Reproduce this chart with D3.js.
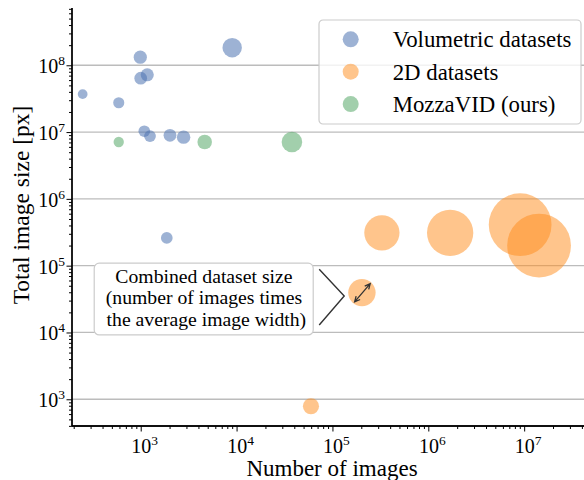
<!DOCTYPE html>
<html>
<head>
<meta charset="utf-8">
<script src="https://cdn.jsdelivr.net/npm/d3@7"></script>
<style>
  body { margin: 0; background: #fff; }
  svg { display: block; font-family: "Liberation Serif", "Times New Roman", serif; }
</style>
</head>
<body>
<div class="chart"></div>
<script>
var svgWidth = 584;
var svgHeight = 480;

// Volumetric datasets: number of images, total image size [px], avg image width
var volImages = [248, 590, 990, 1000, 1170, 1090, 1250, 2020, 2800, 9000, 1870];
var volTotal = [3.7e7, 2.75e7, 1.32e8, 6.4e7, 7.2e7, 1.03e7, 8.7e6, 8.95e6, 8.4e6, 1.83e8, 2.6e5];
var volWidth = [333, 302, 509, 400, 416, 218, 206, 208, 203, 568, 130];

// 2D datasets
var flatImages = [3.28e5, 1.69e6, 9.08e6, 1.43e7, 2.03e5, 5.97e4];
var flatTotal = [3.1e5, 3.1e5, 4.1e5, 2.0e5, 3.95e4, 785];
var flatWidth = [557, 557, 640, 447, 199, 28];

// MozzaVID (ours)
var mozzaImages = [590, 4650, 37800];
var mozzaTotal = [7.1e6, 7.1e6, 7.1e6];
var mozzaWidth = [192, 192, 192];

var seriesNames = ["Volumetric datasets", "2D datasets", "MozzaVID (ours)"];
var seriesColors = ["#4c72b0", "#ff8c1a", "#55a868"];
var yTicks = [1e3, 1e4, 1e5, 1e6, 1e7, 1e8];
var xTicks = [1e3, 1e4, 1e5, 1e6, 1e7];
var noteLines = ["Combined dataset size", "(number of images times", " the average image width)"];

var margin = {top: 8, right: -8, bottom: 54, left: 72};
var width = svgWidth - margin.left - margin.right;
var height = svgHeight - margin.top - margin.bottom;

function makeSeries(n, t, w) {
  return n.map(function(v, i) { return {n: v, total: t[i], combined: v * w[i]}; });
}
var series = [
  makeSeries(volImages, volTotal, volWidth),
  makeSeries(flatImages, flatTotal, flatWidth),
  makeSeries(mozzaImages, mozzaTotal, mozzaWidth)
];

var svg = d3.select(".chart")
  .append("svg")
  .attr("width", svgWidth)
  .attr("height", svgHeight);

var chartGroup = svg.append("g")
  .attr("transform", `translate(${margin.left}, ${margin.top})`);

var x = d3.scaleLog().domain([192, 5.1e7]).range([0, width]);
var y = d3.scaleLog().domain([398, 7.2e8]).range([height, 0]);
var r = d3.scalePow().exponent(1 / 6).domain([0, 1e6]).range([0, 7.4]);

// grid
chartGroup.append("g").selectAll("line")
  .data(yTicks)
  .enter()
  .append("line")
  .attr("x1", 0)
  .attr("x2", width)
  .attr("y1", d => y(d))
  .attr("y2", d => y(d))
  .attr("stroke", "#bcbcbc")
  .attr("stroke-width", 1.3);

// minor ticks
function minors(scale) {
  var dom = scale.domain(), out = [];
  for (var e = Math.floor(Math.log10(dom[0])); e <= Math.ceil(Math.log10(dom[1])); e++) {
    for (var m = 2; m < 10; m++) {
      var v = m * Math.pow(10, e);
      if (v >= dom[0] && v <= dom[1]) out.push(v);
    }
  }
  return out;
}

var xAxisG = chartGroup.append("g").attr("transform", `translate(0, ${height})`);
xAxisG.call(d3.axisBottom(x).tickValues(minors(x)).tickSize(3).tickFormat(""));
xAxisG.call(g => g.append("g").call(d3.axisBottom(x).tickValues(xTicks).tickSize(5.5).tickFormat("")));
var yAxisG = chartGroup.append("g");
yAxisG.call(d3.axisLeft(y).tickValues(minors(y)).tickSize(3).tickFormat(""));
yAxisG.call(g => g.append("g").call(d3.axisLeft(y).tickValues(yTicks).tickSize(5.5).tickFormat("")));
chartGroup.selectAll(".domain").attr("stroke", "#000").attr("stroke-width", 1.3);
chartGroup.selectAll(".tick line").attr("stroke", "#000").attr("stroke-width", 1);
xAxisG.selectAll(".domain").attr("d", `M0,0H${width}`);
yAxisG.selectAll(".domain").attr("d", `M0,0V${height}`);

function powLabel(sel, v) {
  sel.append("tspan").text("10");
  sel.append("tspan").attr("dy", -8).attr("font-size", 13.5).text(Math.round(Math.log10(v)));
}

chartGroup.append("g").selectAll("text")
  .data(yTicks)
  .enter()
  .append("text")
  .attr("x", -7)
  .attr("y", d => y(d) + 8)
  .attr("text-anchor", "end")
  .attr("font-size", 20)
  .each(function(d) { powLabel(d3.select(this), d); });

chartGroup.append("g").selectAll("text")
  .data(xTicks)
  .enter()
  .append("text")
  .attr("x", d => x(d) + 4)
  .attr("y", height + 27)
  .attr("text-anchor", "middle")
  .attr("font-size", 20)
  .each(function(d) { powLabel(d3.select(this), d); });

// points
series.forEach(function(data, i) {
  chartGroup.append("g").selectAll("circle")
    .data(data)
    .enter()
    .append("circle")
    .attr("cx", d => x(d.n))
    .attr("cy", d => y(d.total))
    .attr("r", d => r(d.combined))
    .attr("fill", seriesColors[i])
    .attr("opacity", i == 1 ? 0.5 : 0.55);
});

// annotation
var ann = series[1][4];
var ax = x(ann.n), ay = y(ann.total);
var box = chartGroup.append("g");
box.append("rect")
  .attr("x", ax - 267.7)
  .attr("y", ay - 29.4)
  .attr("width", 219)
  .attr("height", 71.7)
  .attr("rx", 5)
  .attr("fill", "#fff")
  .attr("stroke", "#cccccc")
  .attr("stroke-width", 1.2);
box.selectAll("text")
  .data(noteLines)
  .enter()
  .append("text")
  .attr("x", ax - 158)
  .attr("y", (d, i) => ay - 9.5 + i * 21.3)
  .attr("text-anchor", "middle")
  .attr("font-size", 19.7)
  .attr("xml:space", "preserve")
  .text(d => d);
box.append("path")
  .attr("d", `M${ax - 42.7},${ay - 23.4}L${ax - 17.7},${ay + 3.3}L${ax - 42.7},${ay + 32.3}`)
  .attr("fill", "none")
  .attr("stroke", "#333")
  .attr("stroke-width", 1.4);

var a1 = [ax - 7.3, ay + 9.3], a2 = [ax + 8.3, ay - 9];
function head(p, q) {
  var ang = Math.atan2(p[1] - q[1], p[0] - q[0]), L = 6, w = 0.45;
  return `M${p[0] - L * Math.cos(ang - w)},${p[1] - L * Math.sin(ang - w)}L${p[0]},${p[1]}L${p[0] - L * Math.cos(ang + w)},${p[1] - L * Math.sin(ang + w)}`;
}
box.append("path")
  .attr("d", `M${a1[0]},${a1[1]}L${a2[0]},${a2[1]}` + head(a1, a2) + head(a2, a1))
  .attr("fill", "none")
  .attr("stroke", "#333")
  .attr("stroke-width", 1.3);

// legend
var legend = svg.append("g").attr("transform", "translate(319, 20)");
legend.append("rect")
  .attr("width", 262)
  .attr("height", 104)
  .attr("rx", 4)
  .attr("fill", "#fff")
  .attr("fill-opacity", 0.8)
  .attr("stroke", "#cccccc")
  .attr("stroke-width", 1.2);
seriesNames.forEach(function(name, i) {
  legend.append("circle")
    .attr("cx", 31.7)
    .attr("cy", 19.3 + i * 32.4)
    .attr("r", 8)
    .attr("fill", seriesColors[i])
    .attr("opacity", i == 1 ? 0.5 : 0.55);
  legend.append("text")
    .attr("x", 73.7)
    .attr("y", 19.3 + i * 32.4 + 8)
    .attr("font-size", 22.8)
    .text(name);
});

// axis labels
svg.append("text")
  .attr("transform", "translate(29, 205) rotate(-90)")
  .attr("text-anchor", "middle")
  .attr("font-size", 23.5)
  .text("Total image size [px]");

svg.append("text")
  .attr("x", 332)
  .attr("y", 476)
  .attr("text-anchor", "middle")
  .attr("font-size", 23)
  .text("Number of images");
</script>
</body>
</html>
